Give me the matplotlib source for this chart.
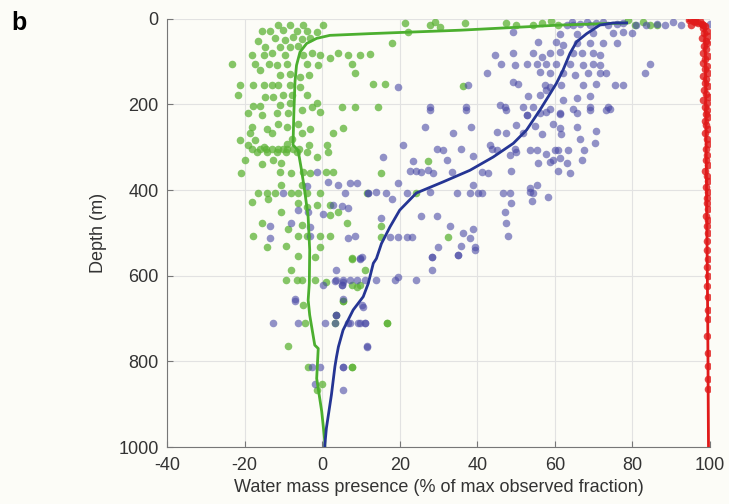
import matplotlib
matplotlib.use("Agg")
import matplotlib.pyplot as plt

plt.rcParams["font.family"] = ["Liberation Sans", "DejaVu Sans"]
plt.rcParams["axes.unicode_minus"] = False

# green water mass: observations (x = % of max fraction, d = depth in m)
green_x = [-11.3, -8.3, -4.8, 0.3, -15.6, -13.4, -10.0, -6.5, -4.0, -1.4, -16.4, -12.1, -9.5, -7.4, -5.3, -3.1,
           -14.7, -10.8, -8.3, -6.1, -18.1, -15.1, -13.0, -9.5, -4.8, -2.7, -0.5, 4.2, 6.8, 9.8, -23.3, -17.3,
           -13.8, -11.7, -9.1, -4.0, -1.0, 2.1, 7.6, 8.5, -16.0, -10.8, -8.3, -5.7, -3.5, -21.1, -17.7, -15.1,
           -13.0, -11.3, -8.3, -5.7, -21.6, -14.7, -12.6, -10.0, -7.8, -4.0, -1.4, 5.1, 8.5, -17.7, -16.0, -10.8,
           -8.3, -2.7, -19.0, -15.6, -11.7, -8.7, -5.3, -0.5, -18.1, -14.3, -11.3, -9.1, -6.1, -3.1, 5.5, 2.9,
           -18.6, -13.0, -5.3, -21.1, -17.3, -7.8, -19.0, -15.1, -9.1, -3.5, 1.2,
           -18.0, -16.0, -14.5, -13.0, -11.5, -10.0, -9.0, -7.5, -6.0,
           -16.9, -14.3, -11.7, -9.2, -6.6, -4.0, -1.4, 1.6, -19.9, -15.6, -12.6, -10.5, -20.8, -10.9, -7.9, -4.9,
           -3.2, 1.1, 2.9, -10.5, -5.3, -16.5, -14.3, -12.2, -7.9, -6.2, -4.0, -0.6, -18.2, -13.9, -6.2, -4.0,
           -1.4, 2.0, 4.1, -10.5, 2.0, 6.3, -15.6, -8.7, -5.3, -17.8, -6.2, -4.0, -0.6, 2.0, -14.3, -9.2, -0.6,
           -6.2, -1.9, 7.6, -7.9, -9.2, -6.6, -5.3, -1.9, 1.1, 8.9,
           -4.9, 5.4, -4.4, 16.6, -8.7, -3.6, 7.6, -0.1, -1.4, 3.7,
           21.3, 22.2, 27.8, 29.1, 30.4, 36.8, 47.5, 50.1, 54.4, 56.6, 59.1, 60.9, 78.9, 80.6, 82.8, 84.5, 86.2,
           17.9, 12.3, 13.2, 16.2, 36.4, 14.5,
           27.4, 15.3, 11.5, 24.2, 15.1, 15.1, 32.5,
           7.6, 11.0, 7.6, 9.7, 5.4, 3.3, 16.6, 7.6]
green_d = [15, 15, 15, 15, 29, 29, 27, 29, 29, 31, 53, 46, 50, 42, 48, 46,
           66, 66, 66, 64, 85, 85, 81, 84, 84, 81, 85, 81, 84, 85, 107, 107,
           105, 109, 107, 107, 109, 93, 107, 128, 120, 132, 130, 136, 132, 154, 155, 155,
           155, 155, 155, 159, 179, 183, 183, 179, 179, 179, 198, 206, 206, 204, 204, 202,
           198, 206, 221, 224, 221, 221, 214, 218, 253, 257, 245, 253, 245, 257, 255, 268,
           268, 266, 266, 284, 284, 280, 295, 299, 292, 295, 295,
           305, 305, 305, 305, 305, 305, 305, 305, 305,
           311, 311, 311, 311, 311, 311, 322, 311, 330, 340, 330, 338, 360, 358, 360, 358,
           360, 358, 358, 389, 389, 407, 407, 407, 407, 407, 407, 407, 428, 420, 431, 439,
           435, 435, 451, 451, 459, 478, 477, 490, 482, 508, 508, 508, 508, 508, 534, 531, 533,
           554, 557, 562, 586, 610, 610, 610, 610, 614, 626,
           668, 659, 711, 711, 763, 812, 812, 853, 867, 692,
           11, 31, 15, 7, 19, 11, 11, 15, 15, 11, 5, 15, 4, 15, 7, 15, 15,
           56, 83, 153, 153, 158, 207,
           332, 360, 407, 407, 484, 509, 509,
           559, 587, 622, 622, 658, 711, 710, 812]

# blue water mass: observations
blue_x = [-1.4, 1.6, 4.1, 7.2, 8.9, -10.0, 5.9, 11.9, -4.0, -6.2, -3.6, 0.3, 2.9, 5.0, 6.7, -7.9, -3.2,
          -13.5, -13.5, -3.2, 6.7, 8.4, 9.7, 3.7, 3.3, 5.4, 7.2, 8.9, 0.3, 5.0, -7.0, 5.4,
          -7.0, 10.6, 3.7, -12.6, -6.2, 0.7, 3.3, 6.7, 9.3, 11.0, 11.5, -2.7, -0.6, 5.4, -1.9, 5.3,
          63.0, 64.7, 66.4, 69.0, 70.7, 72.5, 73.7, 75.9, 77.6, 81.0, 83.6, 86.2, 88.3, 90.5, 92.6, 99.9, 64.3, 68.2,
          49.3, 61.3, 65.6, 69.9, 75.0, 77.6, 79.8, 55.7, 60.4, 62.1, 65.6, 69.0, 72.5, 75.9,
          44.5, 49.3, 54.4, 56.6, 58.7, 61.3, 64.7, 66.9, 69.9, 71.6, 46.2, 49.7, 52.7, 55.3, 57.8, 60.4,
          63.9, 67.3, 69.9, 71.6, 84.5, 83.2, 42.4, 56.1, 58.7, 62.1, 65.1, 68.6, 71.6, 73.3, 49.3, 50.5,
          57.4, 58.7, 61.7, 67.3, 70.7, 75.5, 77.6, 37.7, 19.6, 53.1, 56.1, 57.8, 62.1, 65.6, 69.0, 74.2,
          27.8, 37.2, 45.8, 47.1, 51.8, 54.4, 58.7, 61.3, 64.7, 69.0, 73.7, 52.7,
          27.8, 37.2, 47.5, 52.7, 56.1, 57.8, 61.3, 65.6, 69.0, 73.3,
          26.5, 38.5, 33.8, 45.0, 47.5, 50.1, 51.8, 54.8, 56.6, 59.6, 61.3, 61.7, 65.6, 66.4, 70.7, 70.3,
          20.9, 43.2, 43.7, 45.0, 49.7, 50.1, 53.6, 55.3, 57.8, 60.0, 60.9, 63.4, 67.5, 29.5, 31.2, 35.9,
          15.6, 23.5, 32.1, 38.9, 48.4, 55.7, 58.7, 59.6, 61.3, 63.0, 66.9,
          22.6, 24.3, 25.6, 27.4, 28.6, 33.4, 41.1, 42.8, 48.8, 60.9, 63.9,
          19.6, 38.9, 53.6, 55.3,
          11.9, 14.0, 16.4, 21.8, 27.8, 34.7, 38.1, 40.2, 41.1, 46.5, 48.4, 53.6, 54.4, 54.0, 58.3, 17.9,
          48.8, 47.1, 47.5, 48.0, 15.3, 25.5, 29.5, 32.9, 36.2, 38.9, 38.1,
          17.5, 19.6, 21.8, 23.1, 29.9, 35.9, 39.4, 28.2, 35.1, 10.2,
          9.7, 28.2, 35.1, 39.4, 28.2, 19.6, 18.8, 24.3, 14.0, 11.0, 5.4, 3.7, 5.0, 10.2, 7.2, 9.7, 11.0,
          11.5, 3.7, 5.4]
blue_d = [358, 381, 389, 383, 383, 408, 407, 408, 391, 447, 451, 455, 435, 438, 443, 477, 486,
          484, 511, 508, 511, 508, 562, 587, 612, 614, 610, 610, 622, 622, 655, 655,
          659, 672, 692, 711, 711, 711, 711, 711, 711, 711, 763, 812, 812, 812, 853, 867,
          15, 15, 13, 15, 11, 7, 15, 13, 11, 15, 15, 13, 15, 7, 15, 13, 7, 7,
          31, 35, 35, 33, 33, 31, 33, 54, 54, 62, 58, 58, 56, 58,
          85, 80, 81, 89, 81, 77, 81, 81, 80, 85, 106, 109, 105, 105, 105, 105,
          105, 109, 105, 109, 105, 128, 126, 124, 128, 128, 132, 128, 128, 128, 147, 153,
          155, 159, 155, 155, 153, 155, 155, 155, 159, 181, 179, 167, 189, 186, 181, 210,
          207, 207, 202, 206, 206, 206, 210, 221, 210, 206, 206, 225,
          214, 214, 214, 225, 221, 218, 223, 221, 214, 214,
          254, 254, 266, 264, 268, 249, 268, 251, 270, 245, 256, 270, 254, 282, 262, 291,
          295, 295, 305, 307, 305, 311, 307, 307, 315, 307, 307, 307, 307, 305, 307, 305,
          322, 332, 330, 320, 319, 336, 334, 329, 326, 338, 330,
          355, 355, 358, 354, 360, 358, 358, 360, 355, 355, 360,
          383, 389, 396, 389,
          407, 404, 407, 407, 404, 408, 408, 408, 408, 408, 408, 404, 408, 425, 417, 422,
          431, 451, 478, 508, 466, 461, 461, 484, 500, 492, 511,
          509, 509, 509, 509, 534, 531, 534, 556, 552, 556,
          559, 556, 552, 540, 587, 602, 610, 610, 610, 610, 610, 610, 622, 668, 711, 711, 711,
          766, 692, 812]

# red water mass: observations
red_x = [94.5, 95.5, 96.0, 96.8, 97.3, 97.8, 98.3, 98.6, 96.2, 95.2,
         98.2, 99.1, 98.5, 99.4, 98.0, 98.9, 99.3, 98.4, 99.0, 98.1, 99.5, 98.7, 98.3, 99.2, 98.6,
         99.6, 98.2, 99.0, 98.8, 99.4, 98.5, 98.9, 99.7, 98.3, 99.1, 98.6, 99.3, 98.9, 99.5, 98.7,
         99.0, 99.4, 98.8, 99.2, 99.6, 98.9, 99.3, 99.0, 99.5, 98.8, 99.2, 99.4, 99.0, 99.6, 99.1,
         99.3, 99.5, 99.0, 99.4, 99.2, 99.6, 99.1, 99.3, 99.5, 99.2, 99.4, 99.3, 99.6, 99.4, 99.5,
         99.3, 99.5, 99.6, 99.4, 99.5]
red_d = [3, 5, 8, 10, 6, 12, 15, 18, 4, 14,
         22, 28, 33, 40, 46, 52, 58, 65, 72, 80, 88, 95, 103, 110, 118,
         126, 134, 142, 150, 158, 166, 175, 183, 190, 198, 206, 214, 222, 230, 238,
         248, 258, 268, 280, 292, 305, 318, 330, 342, 355, 368, 380, 392, 405, 418,
         430, 445, 460, 470, 485, 500, 520, 540, 560, 580, 600, 625, 650, 680, 700,
         740, 780, 810, 840, 865]

# mean profiles
green_line_x = [78.5, 61.3, 35.5, 12.3, 2.0, -1.4, -4.0, -5.7, -6.6, -7.0, -7.3, -7.5, -6.2, -5.3, -4.4,
                -3.6, -3.2, -3.3, -3.6, -3.2, -1.9, -1.0, -1.4, -0.1, 0.7, 0.7]
green_line_d = [10, 15, 27, 35, 39, 46, 58, 78, 109, 148, 225, 295, 307, 354, 408,
                463, 540, 618, 657, 692, 762, 770, 840, 917, 987, 1000]
blue_line_x = [78.5, 75.0, 71.6, 68.2, 65.6, 63.9, 62.1, 60.4, 58.3, 56.1, 52.7, 49.3, 44.1, 38.1, 31.2,
               24.3, 20.0, 17.5, 15.3, 14.0, 13.2, 11.9, 10.6, 8.0, 5.4, 4.2, 3.7, 3.3, 2.4, 1.1, 0.7, 0.7]
blue_line_d = [10, 10, 15, 35, 54, 81, 120, 151, 182, 214, 260, 291, 323, 354, 381,
               407, 447, 486, 525, 560, 571, 618, 649, 680, 727, 766, 790, 812, 878, 956, 995, 1000]
red_line_x = [94.5, 97.0, 98.3, 98.6, 98.8, 99.0, 99.2, 99.4, 99.6]
red_line_d = [5, 12, 18, 25, 100, 300, 500, 700, 1000]

bg = "#fcfcf7"
fig = plt.figure(figsize=(7.29, 5.04), dpi=100, facecolor=bg)
ax = fig.add_axes([0.229, 0.113, 0.745, 0.85], facecolor=bg)

ax.scatter(green_x, green_d, s=30, color="#5db336", alpha=0.75, linewidths=0, zorder=2)
ax.scatter(blue_x, blue_d, s=30, color="#4a4aa6", alpha=0.6, linewidths=0, zorder=3)
ax.scatter(red_x, red_d, s=30, color="#e01a1a", alpha=0.8, linewidths=0, zorder=3)

ax.plot(green_line_x, green_line_d, color="#4caf2f", lw=2, zorder=4)
ax.plot(blue_line_x, blue_line_d, color="#253594", lw=2, zorder=4)
ax.plot(red_line_x, red_line_d, color="#e01a1a", lw=2, zorder=4)

ax.set_xlim(-40, 100)
ax.set_ylim(1000, 0)
ax.set_xticks(range(-40, 101, 20))
ax.set_yticks(range(0, 1001, 200))
ax.grid(True, color="#e2e2e2", lw=0.8, zorder=0)
ax.set_axisbelow(True)
for s in ["top", "right"]:
    ax.spines[s].set_visible(False)
for s in ["left", "bottom"]:
    ax.spines[s].set_color("#777777")
ax.tick_params(direction="in", length=4, color="#777777", labelsize=13, labelcolor="#333333")
ax.tick_params(axis="x", pad=7)
ax.tick_params(axis="y", pad=6)
ax.set_xlabel("Water mass presence (% of max observed fraction)", fontsize=13, color="#333333", labelpad=4)
ax.set_ylabel("Depth (m)", fontsize=13, color="#333333", labelpad=8)

fig.text(0.016, 0.955, "b", fontsize=18, fontweight="bold", va="center", ha="left")

plt.savefig("out.png", dpi=100, facecolor=bg)
plt.close()
